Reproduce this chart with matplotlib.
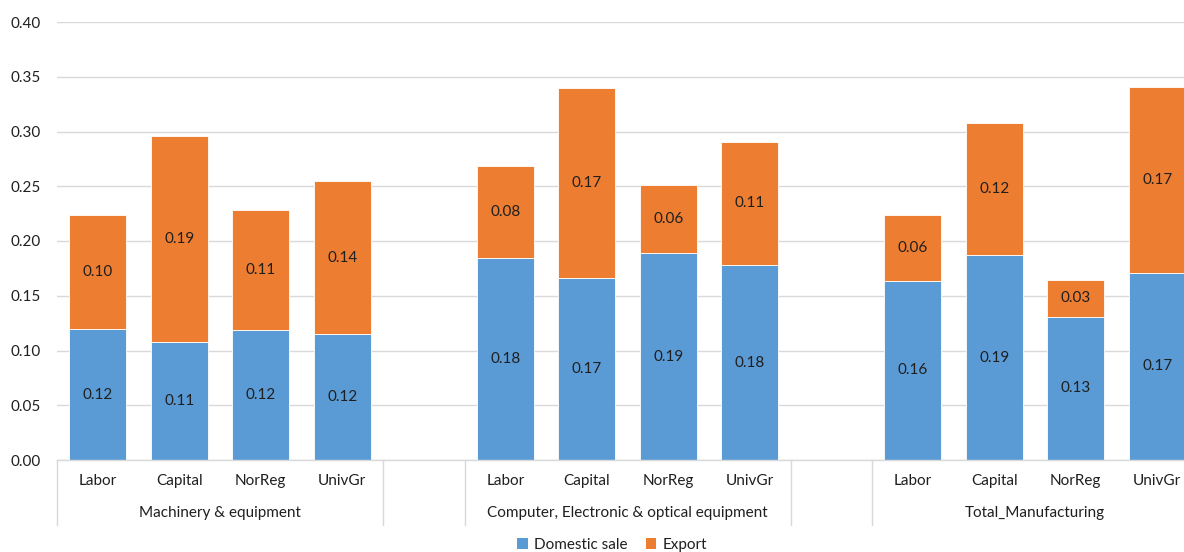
import matplotlib
matplotlib.use("Agg")
import matplotlib.pyplot as plt
import matplotlib.transforms as mtransforms
from matplotlib.patches import Patch

plt.rcParams['font.family'] = ['Lato', 'DejaVu Sans']

groups = ["Machinery & equipment", "Computer, Electronic & optical equipment", "Total_Manufacturing"]
factors = ["Labor", "Capital", "NorReg", "UnivGr"]

domestic_mach = [0.1194, 0.1081, 0.1185, 0.1152]
export_mach = [0.1043, 0.1881, 0.1100, 0.1394]
domestic_comp = [0.1841, 0.1661, 0.1889, 0.1780]
export_comp = [0.0847, 0.1732, 0.0625, 0.1125]
domestic_total = [0.1636, 0.1871, 0.1310, 0.1709]
export_total = [0.0598, 0.1208, 0.0330, 0.1696]

domestic = [domestic_mach, domestic_comp, domestic_total]
export = [export_mach, export_comp, export_total]

yticks = [0.00, 0.05, 0.10, 0.15, 0.20, 0.25, 0.30, 0.35, 0.40]

BLUE = "#5B9BD5"
ORANGE = "#ED7D31"
GRID = "#D9D9D9"
TXT = "#1F1F1F"
FS = 11

W, H = 1184, 552
fig = plt.figure(figsize=(W / 100, H / 100), dpi=100)
ax = fig.add_axes([57 / W, (H - 460) / H, 1141 / W, 438 / H])

n_slots = len(groups) * len(factors) + (len(groups) - 1)
ax.set_xlim(-0.5, n_slots - 0.5)
ax.set_ylim(0, 0.40)

bw = 0.70
trans = mtransforms.blended_transform_factory(ax.transData, ax.transAxes)
dividers = [-0.5]
for g, gname in enumerate(groups):
    start = g * (len(factors) + 1)
    xs = [start + i for i in range(len(factors))]
    d = domestic[g]
    e = export[g]
    ax.bar(xs, d, width=bw, color=BLUE, edgecolor="white", linewidth=0.6, zorder=3)
    ax.bar(xs, e, width=bw, bottom=d, color=ORANGE, edgecolor="white", linewidth=0.6, zorder=3)
    for x, dv, ev, f in zip(xs, d, e, factors):
        ax.text(x, dv / 2, f"{dv:.2f}", ha="center", va="center", fontsize=FS, color=TXT, zorder=4)
        ax.text(x, dv + ev / 2, f"{ev:.2f}", ha="center", va="center", fontsize=FS, color=TXT, zorder=4)
        ax.text(x, -21 / 438, f, ha="center", va="center", fontsize=FS, color=TXT, transform=trans)
    ax.text((xs[0] + xs[-1]) / 2, -53 / 438, gname, ha="center", va="center", fontsize=FS,
            color=TXT, transform=trans)
    dividers.append(xs[-1] + 0.5)
    if g < len(groups) - 1:
        dividers.append(xs[-1] + 1.5)

for xd in dividers:
    ax.plot([xd, xd], [0, -65 / 438], color=GRID, linewidth=1.0, transform=trans, clip_on=False)

ax.set_yticks(yticks)
ax.set_yticklabels([f"{v:.2f}" for v in yticks], fontsize=FS, color=TXT)
ax.set_xticks([])
ax.tick_params(axis="y", length=0, pad=12)
ax.grid(axis="y", color=GRID, linewidth=1.0, zorder=0)
for s in ["top", "right", "left"]:
    ax.spines[s].set_visible(False)
ax.spines["bottom"].set_color(GRID)
ax.spines["bottom"].set_linewidth(1.0)
ax.spines["bottom"].set_zorder(5)

handles = [Patch(facecolor=BLUE, label="Domestic sale"), Patch(facecolor=ORANGE, label="Export")]
fig.legend(handles=handles, loc="center", bbox_to_anchor=(612 / W, (H - 545) / H), ncol=2,
           frameon=False, fontsize=FS, handlelength=0.7, handleheight=0.7, handletextpad=0.4,
           columnspacing=1.2, labelcolor=TXT)

fig.savefig("out.png", dpi=100)
